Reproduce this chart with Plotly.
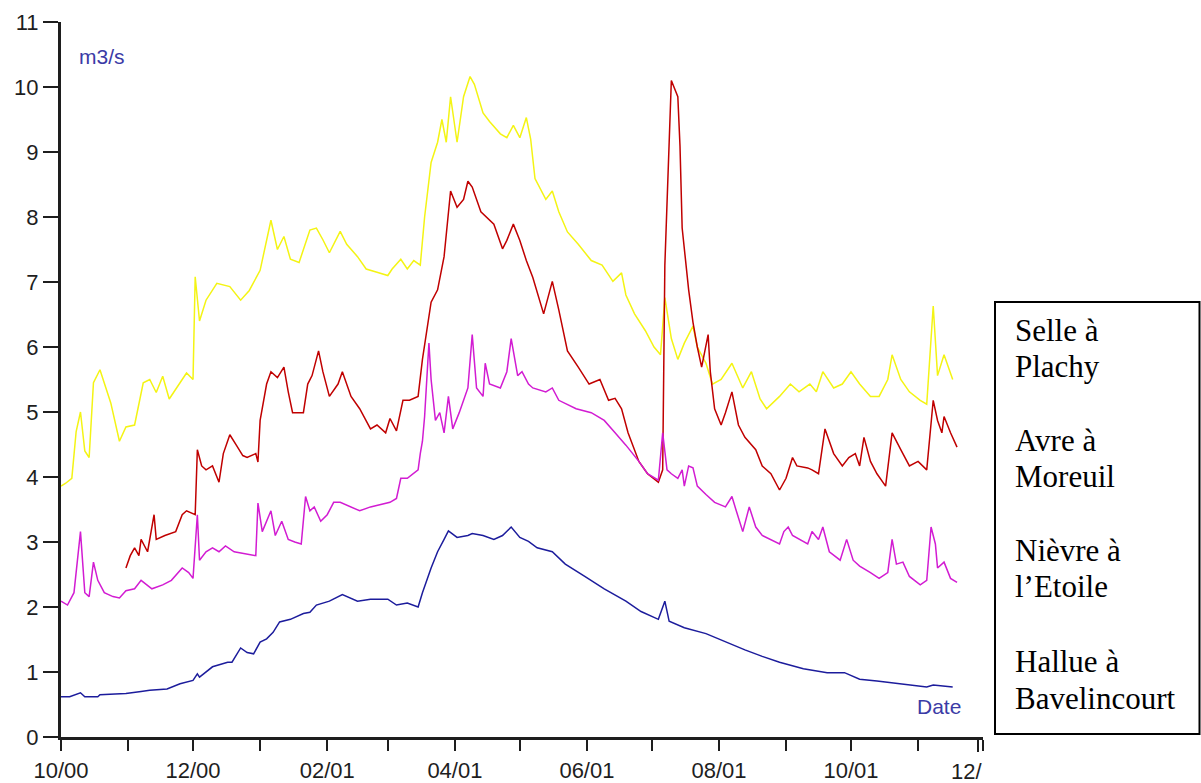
import pandas as pd
import plotly.graph_objects as go

# ---------------- data ----------------
START = "2000-10-01"  # day 0 of the day offsets below

TICK_DATES = ["2000-10-01", "2000-12-01", "2001-02-01", "2001-04-01",
              "2001-06-01", "2001-08-01", "2001-10-01", "2001-12-01"]
TICK_LABELS = ["10/00", "12/00", "02/01", "04/01", "06/01", "08/01", "10/01", "12/"]
MINOR_TICK_DATES = ["2000-11-01", "2001-01-01", "2001-03-01", "2001-05-01",
                    "2001-07-01", "2001-09-01", "2001-11-01"]
Y_TICKS = list(range(0, 12))

Y_UNIT = "m3/s"
X_UNIT = "Date"
LEGEND_LINES = ["Selle à", "Plachy", "Avre à", "Moreuil",
                "Nièvre à", "l’Etoile", "Hallue à", "Bavelincourt"]

# Selle à Plachy (yellow)
selle_days = [0, 2, 5, 7, 9, 11, 13, 15, 18, 23,
              27, 30, 34, 38, 41, 44, 47, 50, 55, 58,
              61, 62, 64, 67, 72, 78, 83, 87, 92, 97,
              100, 103, 106, 110, 115, 118, 121, 124, 129, 132,
              137, 141, 146, 151, 153, 157, 160, 163, 166, 168,
              171, 174, 176, 178, 180, 183, 186, 189, 191, 195,
              198, 203, 206, 209, 212, 215, 217, 219, 224, 227,
              230, 234, 239, 245, 250, 255, 259, 261, 265, 270,
              274, 277, 279, 282, 285, 288, 292, 294, 298, 301,
              305, 310, 315, 319, 323, 326, 332, 337, 341, 346,
              349, 352, 357, 361, 365, 369, 374, 378, 382, 384,
              388, 392, 397, 400, 403, 405, 408, 412]
selle_q = [3.86, 3.9, 3.98, 4.7, 5.0, 4.4, 4.3, 5.45, 5.65, 5.14,
           4.55, 4.77, 4.8, 5.45, 5.5, 5.3, 5.55, 5.2, 5.45, 5.6,
           5.5, 7.08, 6.4, 6.72, 6.98, 6.93, 6.72, 6.87, 7.18, 7.95,
           7.5, 7.7, 7.35, 7.3, 7.8, 7.83, 7.65, 7.45, 7.78, 7.58,
           7.39, 7.2, 7.15, 7.1, 7.2, 7.35, 7.2, 7.33, 7.26, 8.0,
           8.84, 9.15, 9.5, 9.15, 9.85, 9.15, 9.85, 10.16, 10.04, 9.6,
           9.47, 9.28, 9.22, 9.41, 9.22, 9.53, 9.2, 8.59, 8.27, 8.4,
           8.08, 7.77, 7.58, 7.33, 7.26, 7.01, 7.14, 6.8, 6.51, 6.25,
           6.0, 5.88, 6.76, 6.13, 5.81, 6.06, 6.32, 6.0, 5.75, 5.43,
           5.5, 5.75, 5.37, 5.62, 5.2, 5.05, 5.24, 5.43, 5.31, 5.43,
           5.31, 5.62, 5.37, 5.43, 5.62, 5.43, 5.24, 5.24, 5.5, 5.88,
           5.5, 5.31, 5.18, 5.12, 6.63, 5.56, 5.88, 5.5]

# Avre à Moreuil (red)
avre_days = [30, 32, 34, 36, 37, 40, 43, 44, 48, 53,
             56, 58, 62, 63, 65, 67, 70, 73, 75, 78,
             81, 84, 86, 90, 91, 92, 95, 97, 100, 103,
             105, 107, 109, 112, 114, 116, 119, 121, 124, 128,
             130, 132, 134, 138, 143, 146, 150, 152, 155, 158,
             161, 165, 167, 171, 174, 177, 178, 180, 183, 186,
             188, 190, 194, 197, 200, 204, 206, 209, 212, 215,
             218, 223, 227, 230, 234, 239, 244, 249, 253, 256,
             259, 262, 267, 271, 276, 278, 279, 281, 282, 285,
             286, 287, 290, 292, 294, 296, 299, 300, 302, 305,
             307, 310, 313, 316, 321, 324, 328, 332, 335, 338,
             340, 345, 347, 350, 353, 357, 361, 364, 367, 369,
             371, 374, 377, 381, 384, 388, 392, 396, 400, 403,
             405, 407, 408, 411, 414]
avre_q = [2.6, 2.79, 2.91, 2.79, 3.04, 2.85, 3.42, 3.04, 3.1, 3.16,
          3.42, 3.48, 3.42, 4.42, 4.17, 4.11, 4.17, 3.92, 4.36, 4.65,
          4.49, 4.33, 4.3, 4.36, 4.23, 4.87, 5.43, 5.62, 5.53, 5.69,
          5.31, 4.99, 4.99, 4.99, 5.43, 5.56, 5.94, 5.62, 5.24, 5.43,
          5.62, 5.43, 5.24, 5.05, 4.74, 4.8, 4.68, 4.9, 4.71, 5.18,
          5.18, 5.24, 5.81, 6.69, 6.88, 7.39, 7.77, 8.4, 8.15, 8.27,
          8.55, 8.46, 8.08, 7.99, 7.89, 7.51, 7.64, 7.89, 7.64, 7.33,
          7.07, 6.51, 7.01, 6.57, 5.94, 5.69, 5.43, 5.5, 5.18, 5.21,
          5.05, 4.68, 4.24, 4.05, 3.92, 4.11, 7.26, 9.15, 10.1, 9.85,
          9.09, 7.83, 6.88, 6.38, 6.0, 5.69, 6.19, 5.62, 5.05, 4.8,
          4.99, 5.31, 4.8, 4.61, 4.42, 4.17, 4.05, 3.8, 3.98, 4.3,
          4.17, 4.14, 4.11, 4.05, 4.74, 4.36, 4.17, 4.3, 4.36, 4.17,
          4.61, 4.24, 4.05, 3.86, 4.68, 4.42, 4.17, 4.24, 4.11, 5.18,
          4.87, 4.68, 4.93, 4.68, 4.46]

# Nièvre à l'Etoile (magenta)
nievre_days = [0, 3, 6, 9, 11, 13, 15, 17, 20, 24,
               27, 30, 34, 37, 42, 47, 51, 56, 59, 61,
               63, 64, 67, 70, 73, 76, 80, 85, 90, 91,
               93, 97, 99, 102, 105, 108, 111, 113, 115, 117,
               120, 123, 126, 129, 134, 138, 143, 147, 152, 155,
               157, 160, 163, 165, 166, 167, 168, 170, 171, 173,
               175, 177, 179, 181, 184, 188, 190, 192, 195, 196,
               198, 203, 206, 208, 211, 213, 216, 218, 224, 227,
               230, 238, 245, 251, 256, 261, 267, 271, 276, 278,
               280, 282, 285, 287, 288, 290, 292, 294, 298, 302,
               307, 310, 312, 315, 318, 321, 324, 328, 332, 334,
               336, 338, 341, 345, 347, 350, 352, 355, 360, 363,
               366, 369, 374, 378, 382, 384, 386, 389, 392, 397,
               400, 402, 404, 405, 408, 411, 414]
nievre_q = [2.09, 2.03, 2.22, 3.16, 2.22, 2.16, 2.69, 2.41, 2.22, 2.16,
            2.14, 2.25, 2.28, 2.41, 2.28, 2.34, 2.41, 2.6, 2.53, 2.44,
            3.42, 2.72, 2.85, 2.91, 2.85, 2.94, 2.85, 2.82, 2.79, 3.6,
            3.16, 3.48, 3.1, 3.32, 3.04, 3.0, 2.97, 3.7, 3.48, 3.54,
            3.32, 3.42, 3.61, 3.61, 3.54, 3.48, 3.54, 3.57, 3.61, 3.67,
            3.98, 3.98, 4.05, 4.11, 4.36, 4.55, 4.93, 6.06, 5.5, 4.87,
            4.99, 4.68, 5.24, 4.74, 4.99, 5.37, 6.19, 5.37, 5.24, 5.75,
            5.43, 5.37, 5.62, 6.13, 5.56, 5.62, 5.43, 5.37, 5.31, 5.37,
            5.18, 5.05, 4.99, 4.87, 4.68, 4.49, 4.24, 4.05, 3.95, 4.68,
            4.11, 4.05, 3.98, 4.11, 3.86, 4.17, 4.14, 3.86, 3.73, 3.61,
            3.54, 3.7, 3.48, 3.16, 3.54, 3.23, 3.1, 3.04, 2.97, 3.16,
            3.23, 3.1, 3.04, 2.97, 3.16, 3.04, 3.23, 2.85, 2.72, 3.04,
            2.72, 2.63, 2.53, 2.44, 2.53, 3.04, 2.66, 2.69, 2.47, 2.34,
            2.41, 3.23, 2.97, 2.6, 2.69, 2.44, 2.38]

# Hallue à Bavelincourt (blue)
hallue_days = [0, 4, 9, 11, 17, 18, 25, 30, 37, 41,
               49, 55, 61, 63, 64, 70, 77, 79, 83, 86,
               89, 92, 95, 98, 101, 106, 112, 115, 118, 124,
               130, 137, 143, 151, 155, 160, 165, 167, 171, 174,
               177, 179, 183, 188, 190, 195, 200, 204, 208, 212,
               216, 220, 227, 233, 242, 251, 261, 268, 276, 279,
               281, 288, 298, 307, 316, 324, 332, 343, 354, 362,
               369, 377, 384, 392, 400, 403, 412]
hallue_q = [0.62, 0.62, 0.68, 0.62, 0.62, 0.65, 0.66, 0.67, 0.7, 0.72,
            0.74, 0.82, 0.87, 0.97, 0.92, 1.08, 1.15, 1.15, 1.37, 1.3,
            1.28, 1.46, 1.51, 1.61, 1.77, 1.81, 1.9, 1.92, 2.03, 2.09,
            2.19, 2.09, 2.12, 2.12, 2.03, 2.06, 2.0, 2.22, 2.6, 2.85,
            3.04, 3.17, 3.07, 3.1, 3.13, 3.1, 3.04, 3.1, 3.23, 3.07,
            3.01, 2.91, 2.85, 2.66, 2.47, 2.28, 2.09, 1.93, 1.81, 2.09,
            1.78, 1.68, 1.59, 1.46, 1.34, 1.24, 1.15, 1.05, 0.99, 0.99,
            0.89, 0.86, 0.83, 0.8, 0.77, 0.8, 0.77]

SERIES = [
    ("Selle à Plachy", selle_days, selle_q, "#f4f414"),
    ("Avre à Moreuil", avre_days, avre_q, "#c00000"),
    ("Nièvre à l’Etoile", nievre_days, nievre_q, "#d21cd2"),
    ("Hallue à Bavelincourt", hallue_days, hallue_q, "#1c1c9c"),
]

# ---------------- layout geometry (window pixels) ----------------
W, H = 1201, 783
L, R, T, B = 61, 983, 22, 737


def px(x):
    return (x - L) / (R - L)


def py(y):
    return (B - y) / (B - T)


base = pd.Timestamp(START)
fig = go.Figure()
for name, days, q, color in SERIES:
    assert len(days) == len(q), name
    dates = base + pd.to_timedelta(days, unit="D")
    fig.add_trace(go.Scatter(x=dates, y=q, mode="lines", name=name,
                             line=dict(color=color, width=1.5),
                             showlegend=False))

axis_font = dict(family="Liberation Sans, Arial, sans-serif", size=22, color="#1e1e1e")

fig.update_layout(
    width=W, height=H,
    margin=dict(l=L, r=W - R, t=T, b=H - B, pad=0, autoexpand=False),
    paper_bgcolor="white", plot_bgcolor="white",
    xaxis=dict(
        type="date", range=[TICK_DATES[0], TICK_DATES[-1]],
        tickmode="array", tickvals=TICK_DATES,
        ticktext=TICK_LABELS[:-1] + [""],
        ticks="outside", ticklen=11, tickwidth=2, tickcolor="#1e1e1e",
        ticklabelstandoff=1,
        minor=dict(tickmode="array", tickvals=MINOR_TICK_DATES, ticks="outside",
                   ticklen=11, tickwidth=2, tickcolor="#1e1e1e", showgrid=False),
        showline=True, linecolor="#1e1e1e", linewidth=3,
        showgrid=False, zeroline=False, tickfont=axis_font, automargin=False,
    ),
    yaxis=dict(
        range=[0, 11], tickmode="array", tickvals=Y_TICKS,
        ticks="outside", ticklen=15, tickwidth=2, tickcolor="#1e1e1e",
        showline=True, linecolor="#1e1e1e", linewidth=3,
        showgrid=False, zeroline=False, tickfont=axis_font, automargin=False,
    ),
)

unit_font = dict(family="Liberation Sans, Arial, sans-serif", size=21, color="#3b3ba6")
annotations = [
    dict(text=Y_UNIT, x=px(102), y=py(56), xref="paper", yref="paper",
         xanchor="center", yanchor="middle", showarrow=False, font=unit_font),
    dict(text=X_UNIT, x=px(939), y=py(706), xref="paper", yref="paper",
         xanchor="center", yanchor="middle", showarrow=False, font=unit_font),
    dict(text=TICK_LABELS[-1], x=px(984), y=py(771), xref="paper", yref="paper",
         xanchor="right", yanchor="middle", showarrow=False, font=axis_font),
]

legend_font = dict(family="Liberation Serif, Times New Roman, serif", size=31, color="#000000")
baselines = [342, 378, 452, 488, 562, 598, 673, 710]
for txt, bl in zip(LEGEND_LINES, baselines):
    annotations.append(dict(text=txt, x=px(1013), y=py(bl + 8), xref="paper", yref="paper",
                            xanchor="left", yanchor="bottom", showarrow=False,
                            font=legend_font))
fig.update_layout(annotations=annotations)

fig.add_shape(type="rect", xref="paper", yref="paper",
              x0=px(995), x1=px(1199.5), y0=py(734), y1=py(302),
              line=dict(color="#000000", width=2), fillcolor="rgba(0,0,0,0)")
fig.add_shape(type="line", xref="paper", yref="paper",
              x0=px(978), x1=px(978), y0=py(737), y1=py(752),
              line=dict(color="#1e1e1e", width=2))

# the page's default 8 px body margin would push the figure off its window
fig.write_html("out.html", config={"displayModeBar": False},
               post_script="document.body.style.margin='0';")
